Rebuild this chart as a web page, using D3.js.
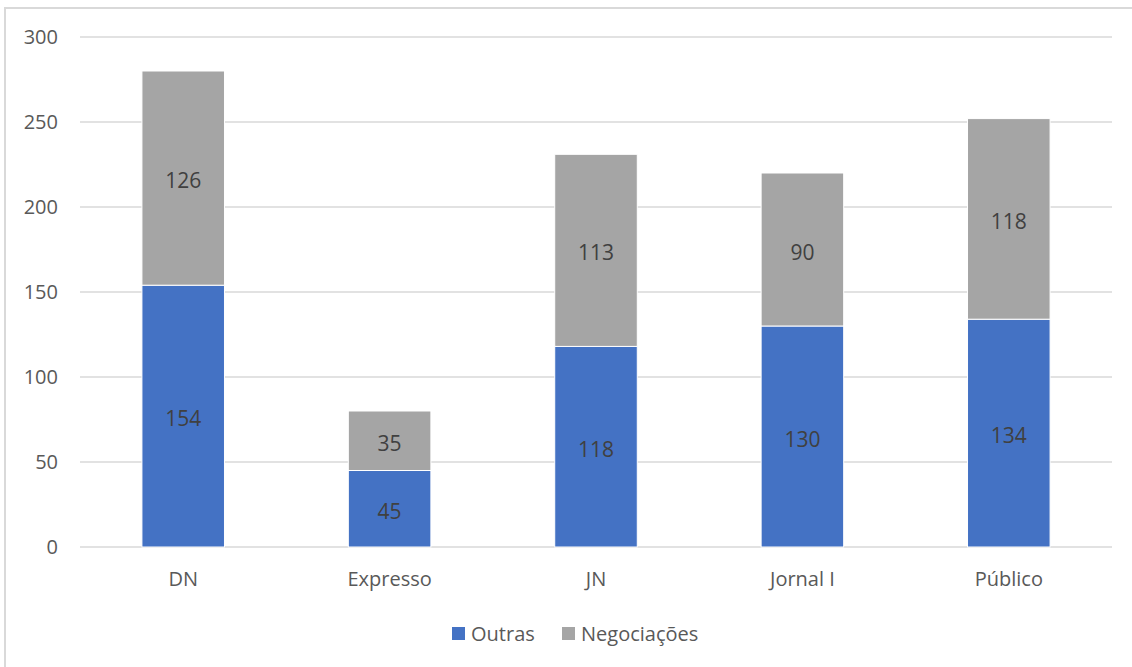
<!DOCTYPE html>
<html><head><meta charset="utf-8">
<script src="https://cdn.jsdelivr.net/npm/d3@7"></script>
<style>body{margin:0;background:#fff}svg{display:block}text{font-family:"Open Sans","Noto Sans",sans-serif}</style>
</head><body><svg id="c" width="1132" height="667"></svg>
<script>
const categories = ["DN","Expresso","JN","Jornal I","Público"];
const outras = [154,45,118,130,134];
const negociacoes = [126,35,113,90,118];
const seriesNames = ["Outras","Negociações"];
const yTicks = [0,50,100,150,200,250,300];
const colors = ["#4472C4","#A5A5A5"];

const svg = d3.select("#c");
svg.append("rect").attr("x",5).attr("y",8).attr("width",1160).attr("height",700)
  .attr("fill","#fff").attr("stroke","#d9d9d9").attr("stroke-width",2);

const L=80,R=1112,T=37,B=547;
const x = d3.scaleBand().domain(categories).range([L,R]).paddingInner(0.6).paddingOuter(0.3);
const y = d3.scaleLinear().domain([0,300]).range([B,T]);

const g = svg.append("g");
g.selectAll("line.grid").data(yTicks).join("line").attr("class","grid")
  .attr("x1",L).attr("x2",R).attr("y1",d=>y(d)).attr("y2",d=>y(d))
  .attr("stroke","#d9d9d9").attr("stroke-width",1.5);

const yAxis = g.append("g").attr("transform",`translate(${L},0)`)
  .call(d3.axisLeft(y).tickValues(yTicks).tickSize(0).tickPadding(22));
yAxis.select(".domain").remove();
yAxis.selectAll("text").attr("fill","#595959").style("font-size","20px").attr("dy","0.33em");

const xAxis = g.append("g").attr("transform",`translate(0,${B})`)
  .call(d3.axisBottom(x).tickSize(0).tickPadding(25));
xAxis.select(".domain").remove();
xAxis.selectAll("text").attr("fill","#595959").style("font-size","20px");

const data = categories.map((c,i)=>({cat:c,Outras:outras[i],"Negociações":negociacoes[i]}));
const stack = d3.stack().keys(seriesNames)(data);
stack.forEach((s,si)=>{
  const gg = g.append("g");
  gg.selectAll("rect").data(s).join("rect")
    .attr("x",d=>x(d.data.cat)).attr("width",x.bandwidth())
    .attr("y",d=>y(d[1])).attr("height",d=>y(d[0])-y(d[1]))
    .attr("fill",colors[si]).attr("stroke","#fff").attr("stroke-width",1);
  gg.selectAll("text").data(s).join("text")
    .attr("x",d=>x(d.data.cat)+x.bandwidth()/2).attr("y",d=>(y(d[0])+y(d[1]))/2+2)
    .attr("text-anchor","middle").attr("dominant-baseline","central")
    .attr("fill","#404040").style("font-size","21px")
    .text(d=>d[1]-d[0]);
});

const leg = svg.append("g");
const legX = [452,562];
seriesNames.forEach((n,i)=>{
  leg.append("rect").attr("x",legX[i]).attr("y",627).attr("width",13).attr("height",13).attr("fill",colors[i]);
  leg.append("text").attr("x",legX[i]+19).attr("y",633).attr("dominant-baseline","central")
    .attr("fill","#595959").style("font-size","20px").text(n);
});
</script></body></html>
